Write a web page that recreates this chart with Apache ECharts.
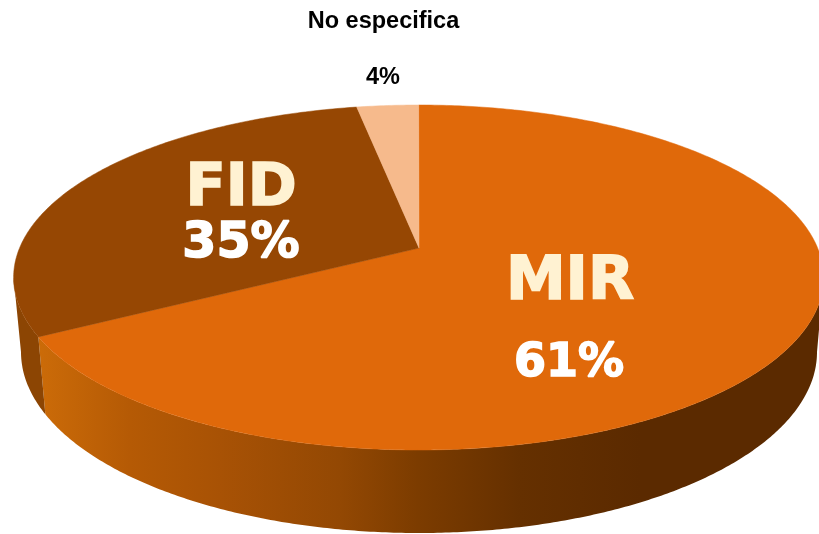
<!DOCTYPE html>
<html>
<head>
<meta charset="utf-8">
<style>html,body{margin:0;padding:0;background:#fff}#c{width:819px;height:534px}</style>
<script src="https://cdn.jsdelivr.net/npm/echarts@6/dist/echarts.min.js"></script>
</head>
<body>
<div id="c"></div>
<script>
const categories = ['MIR', 'FID', 'No especifica'];
const values = [61, 35, 4];
const sliceColors = ['#e0690a', '#964703', '#f6ba8c'];

// Picture geometry (not data)
const apex = [419, 248];
const topRim = { cx: 418.6, cy: 277.5, rx: 405, ry: 172.5 };
const baseRim = { cx: 419, cy: 352, rx: 398, ry: 181 };
// the drawn pie's perspective stretches the front of the disc
const warpA = -0.1012, warpB = 0.0199;
const TAU = Math.PI * 2;
const total = values.reduce((a, b) => a + b, 0);
function angleOf(f) {
  return TAU * (f + warpA * Math.sin(TAU * f) + warpB * Math.sin(2 * TAU * f));
}
function rimPoint(rim, t) {
  return [rim.cx + rim.rx * Math.sin(t), rim.cy - rim.ry * Math.cos(t)];
}
function arc(rim, a, b) {
  const n = Math.max(2, Math.ceil(Math.abs(b - a) / 0.01));
  const pts = [];
  for (let i = 0; i <= n; i++) pts.push(rimPoint(rim, a + (b - a) * i / n));
  return pts;
}
const wallMir = new echarts.graphic.LinearGradient(40, 0, 640, 0, [
  { offset: 0, color: '#cb6b08' }, { offset: 0.15, color: '#b55a05' },
  { offset: 0.3, color: '#a85205' }, { offset: 0.5, color: '#934803' },
  { offset: 0.63, color: '#7c3c00' }, { offset: 0.8, color: '#653000' },
  { offset: 1, color: '#5b2a00' }
], true);
const wallFid = '#8c4503';

function wallPoly(a, b) {
  return arc(topRim, a, b).concat(arc(baseRim, b, a));
}
const textStyles = [
  [{ x: 570, y: 283, size: 60, fill: '#fff2d2' }, { x: 569, y: 364, size: 46, fill: '#ffffff' }],
  [{ x: 241, y: 190, size: 59, fill: '#fff2d2' }, { x: 241, y: 244, size: 49, fill: '#ffffff' }]
];

function heavy(text, pos) {
  return { type: 'text', x: pos.x, y: pos.y, z2: 5, style: {
    text, fill: pos.fill, stroke: pos.fill, lineWidth: 1.6,
    fontFamily: 'DejaVu Sans', fontWeight: 'bold', fontSize: pos.size,
    align: 'center', verticalAlign: 'middle' } };
}

function renderItem(params, api) {
  const i = params.dataIndex;
  let before = 0;
  for (let k = 0; k < i; k++) before += values[k];
  const v = api.value(1);
  const a = angleOf(before / total);
  const b = angleOf((before + v) / total);
  const children = [];
  // side walls (only the front half of the disc shows one)
  const wa = Math.max(a, Math.PI / 2), wb = Math.min(b, Math.PI * 1.5);
  if (wb > wa) {
    children.push({ type: 'polygon', shape: { points: wallPoly(wa, wb) },
      style: { fill: i === 0 ? wallMir : wallFid }, z2: 1 });
  }
  children.push({ type: 'polygon', shape: { points: [apex].concat(arc(topRim, a, b)) },
    style: { fill: sliceColors[i], stroke: sliceColors[i], lineWidth: 0.5 }, z2: 2 });
  if (i < 2) {
    const [n, p] = textStyles[i];
    children.push(heavy(categories[i], n));
    children.push(heavy(v + '%', p));
  } else {
    children.push({ type: 'text', x: 383.5, y: 22, z2: 5, style: {
      text: categories[i], fill: '#000', fontFamily: 'Liberation Sans', fontWeight: 'bold', fontSize: 23.5,
      align: 'center', verticalAlign: 'middle' } });
    children.push({ type: 'text', x: 383, y: 78, z2: 5, style: {
      text: v + '%', fill: '#000', fontFamily: 'Liberation Sans', fontWeight: 'bold', fontSize: 23.5,
      align: 'center', verticalAlign: 'middle' } });
  }
  return { type: 'group', children };
}

const chart = echarts.init(document.getElementById('c'), null, { renderer: 'canvas' });
chart.setOption({
  animation: false,
  backgroundColor: '#ffffff',
  series: [{
    type: 'custom',
    coordinateSystem: 'none',
    silent: true,
    renderItem,
    data: categories.map((c, i) => ({ name: c, value: [i, values[i]] }))
  }]
});
</script>
</body>
</html>
